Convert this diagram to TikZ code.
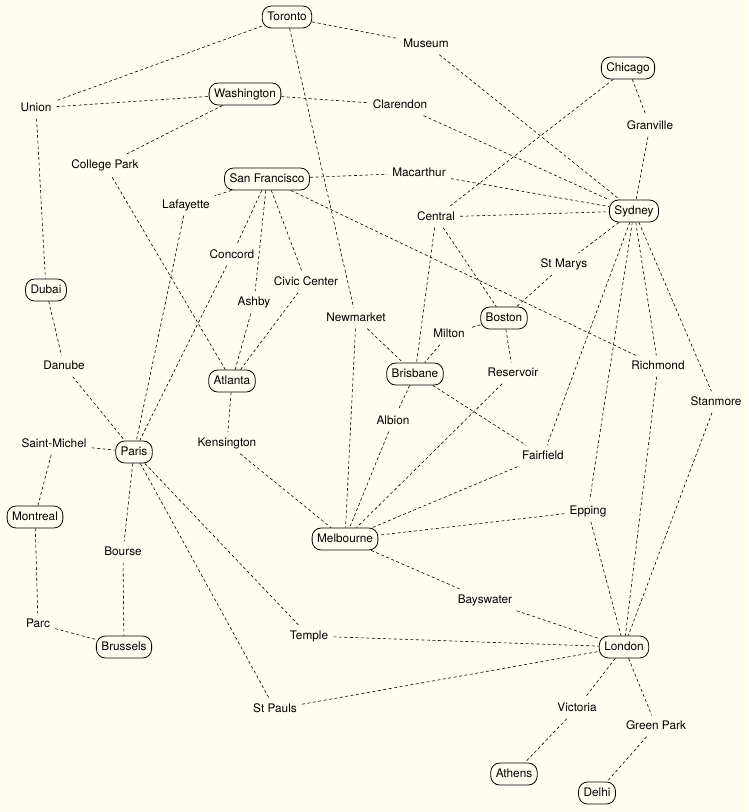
\documentclass[tikz,border=0pt]{standalone}
\usepackage{fontspec}
\setmainfont{TeX Gyre Heros}
\definecolor{bg}{RGB}{255,253,240}
\newcommand\nodefont{\fontsize{11.8}{14}\selectfont}
\begin{document}
\begin{tikzpicture}[x=1pt,y=-1pt,
  city/.style={draw, rounded corners=9pt, line width=0.8pt, fill=bg, inner xsep=5pt, inner ysep=0pt,
    minimum height=22pt, font=\nodefont, text height=8.6pt, text depth=2.4pt},
  stn/.style={inner xsep=5pt, inner ysep=5pt, font=\nodefont, text height=8.6pt, text depth=2.4pt},
  link/.style={dash pattern=on 3pt off 2.5pt, line width=0.6pt}]
\fill[bg] (0,0) rectangle (748,812);
\useasboundingbox (0,0) rectangle (748,812);
% cities
\node[city] (tor) at (287,17) {Toronto};
\node[city] (was) at (245,94) {Washington};
\node[city] (sf) at (267,179) {San Francisco};
\node[city] (chi) at (628,68) {Chicago};
\node[city] (syd) at (634,211) {Sydney};
\node[city] (dub) at (46,290) {Dubai};
\node[city] (atl) at (232,381) {Atlanta};
\node[city] (bos) at (504,318) {Boston};
\node[city] (bri) at (415,374) {Brisbane};
\node[city] (par) at (134,452) {Paris};
\node[city] (mon) at (35,517) {Montreal};
\node[city] (mel) at (345,539) {Melbourne};
\node[city] (bru) at (124,647) {Brussels};
\node[city] (lon) at (624,647) {London};
\node[city] (ath) at (514,774) {Athens};
\node[city] (del) at (597,793) {Delhi};
% stations
\node[stn] (museum) at (426,44) {Museum};
\node[stn] (union) at (36,108) {Union};
\node[stn] (clar) at (400,105) {Clarendon};
\node[stn] (gran) at (650,126) {Granville};
\node[stn] (colp) at (105,165) {College Park};
\node[stn] (mac) at (419,173) {Macarthur};
\node[stn] (laf) at (186,205) {Lafayette};
\node[stn] (cen) at (436,217) {Central};
\node[stn] (conc) at (232,255) {Concord};
\node[stn] (stm) at (564,264) {St Marys};
\node[stn] (civ) at (306,282) {Civic Center};
\node[stn] (ash) at (254,302) {Ashby};
\node[stn] (newm) at (356,318) {Newmarket};
\node[stn] (mil) at (449,334) {Milton};
\node[stn] (dan) at (64,366) {Danube};
\node[stn] (res) at (513,373) {Reservoir};
\node[stn] (rich) at (658,366) {Richmond};
\node[stn] (stan) at (716,402) {Stanmore};
\node[stn] (alb) at (393,421) {Albion};
\node[stn] (smi) at (54,444) {Saint-Michel};
\node[stn] (ken) at (227,443) {Kensington};
\node[stn] (fair) at (543,456) {Fairfield};
\node[stn] (epp) at (588,511) {Epping};
\node[stn] (bour) at (123,552) {Bourse};
\node[stn] (bays) at (485,600) {Bayswater};
\node[stn] (parc) at (38,624) {Parc};
\node[stn] (tem) at (309,636) {Temple};
\node[stn] (stp) at (275,709) {St Pauls};
\node[stn] (vic) at (577,708) {Victoria};
\node[stn] (gp) at (656,726) {Green Park};
% links
\foreach \a/\b in {tor/union, tor/museum, tor/newm, museum/syd, union/was, union/dub,
  was/colp, was/clar, clar/syd, chi/gran, chi/cen, gran/syd, sf/mac, mac/syd, sf/laf,
  sf/conc, sf/ash, sf/civ, sf/rich, cen/syd, cen/bri, cen/bos, syd/stm, stm/bos,
  syd/fair, syd/epp, syd/rich, syd/stan, epp/lon, rich/lon, stan/lon, bos/mil, mil/bri,
  bos/res, res/mel, newm/bri, newm/mel, bri/alb, alb/mel, bri/fair, fair/mel, epp/mel,
  mel/bays, bays/lon, tem/lon, stp/lon, lon/vic, vic/ath, lon/gp, gp/del, ken/mel,
  atl/ken, atl/ash, atl/civ, atl/colp, laf/par, conc/par, dub/dan, dan/par, smi/par,
  smi/mon, mon/parc, parc/bru, par/bour, bour/bru, par/tem, par/stp}
  \draw[link] (\a) -- (\b);
\end{tikzpicture}
\end{document}
